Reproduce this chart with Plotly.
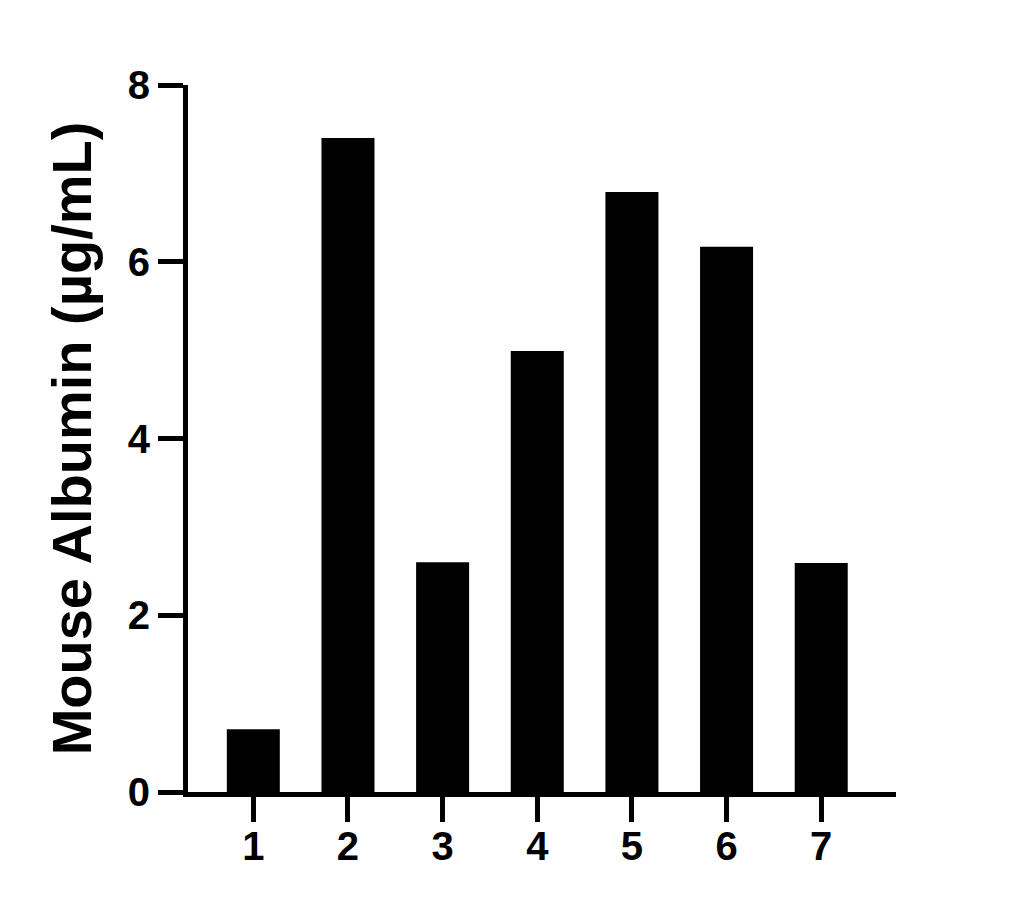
import plotly.graph_objects as go

samples = ["1", "2", "3", "4", "5", "6", "7"]
albumin = [0.71, 7.40, 2.60, 4.99, 6.79, 6.17, 2.59]
y_ticks = [0, 2, 4, 6, 8]

font_family = "Liberation Sans, Arial, sans-serif"

fig = go.Figure()
fig.add_trace(go.Bar(
    x=[int(s) for s in samples],
    y=albumin,
    width=0.56,
    marker=dict(color="black", line=dict(width=0)),
))

fig.update_layout(
    width=1031,
    height=908,
    margin=dict(l=180, r=143, t=77, b=124),
    plot_bgcolor="white",
    paper_bgcolor="white",
    showlegend=False,
    font=dict(family=font_family, color="black"),
)

fig.update_xaxes(
    range=[0.31, 7.79],
    tickvals=[int(s) for s in samples],
    ticktext=samples,
    showline=True, linewidth=5, linecolor="black",
    ticks="outside", ticklen=25, tickwidth=5, tickcolor="black",
    tickfont=dict(size=40, family=font_family, weight="bold"),
    ticklabelstandoff=-10,
    showgrid=False, zeroline=False,
)
fig.update_yaxes(
    range=[0, 8],
    tickvals=y_ticks,
    showline=True, linewidth=5, linecolor="black",
    ticks="outside", ticklen=25, tickwidth=5, tickcolor="black",
    tickfont=dict(size=40, family=font_family, weight="bold"),
    title=dict(text="Mouse Albumin (µg/mL)",
               font=dict(size=56, family=font_family, weight="bold"),
               standoff=20),
    showgrid=False, zeroline=False,
)

fig.write_html("out.html")
